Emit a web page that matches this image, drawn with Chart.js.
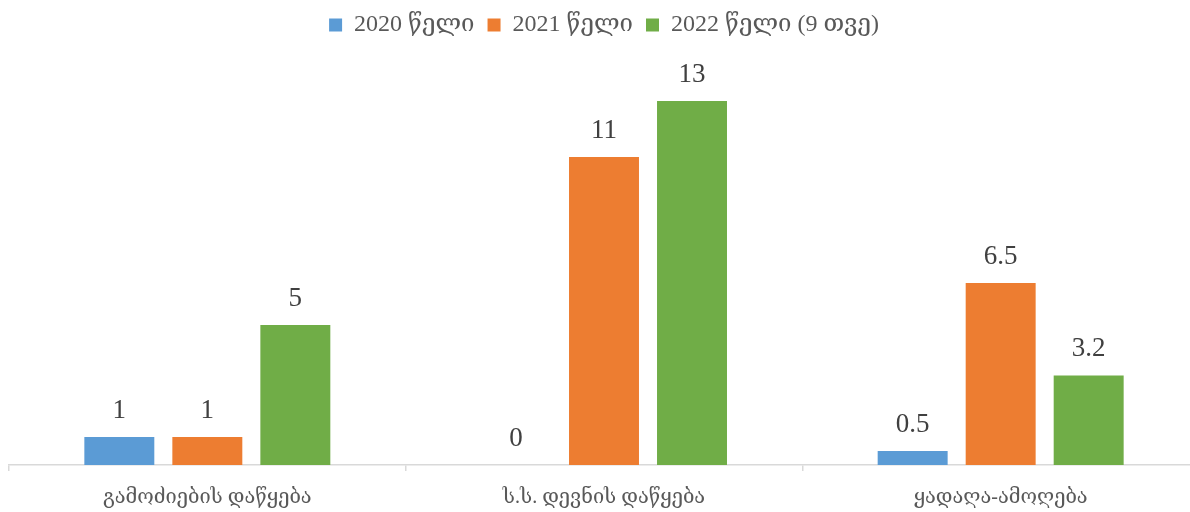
<!DOCTYPE html>
<html>
<head>
<meta charset="utf-8">
<script src="https://cdn.jsdelivr.net/npm/chart.js@4/dist/chart.umd.min.js"></script>
<style>
  html, body { margin: 0; padding: 0; background: #fff; overflow: hidden; }
  #wrap { width: 1190px; height: 512px; overflow: hidden; }
</style>
</head>
<body>
<div id="wrap"><canvas id="bars" width="1199" height="512"></canvas></div>
<script>
const categories = ['გამოძიების დაწყება', 'ს.ს. დევნის დაწყება', 'ყადაღა-ამოღება'];
const seriesNames = ['2020 წელი', '2021 წელი', '2022 წელი (9 თვე)'];
const values2020 = [1, 0, 0.5];
const values2021 = [1, 11, 6.5];
const values2022 = [5, 13, 3.2];
const colors = ['#5B9BD5', '#ED7D31', '#70AD47'];

const serif = "'Liberation Serif', 'DejaVu Serif', serif";

// value labels above each bar
const barLabels = {
  id: 'barLabels',
  afterDatasetsDraw(chart) {
    const ctx = chart.ctx;
    ctx.save();
    ctx.font = '27px ' + serif;
    ctx.fillStyle = '#404040';
    ctx.textAlign = 'center';
    ctx.textBaseline = 'alphabetic';
    chart.data.datasets.forEach((ds, i) => {
      chart.getDatasetMeta(i).data.forEach((bar, j) => {
        ctx.fillText(String(ds.data[j]), bar.x, bar.y - 19);
      });
    });
    ctx.restore();
  }
};

// fix legend block height so the plot area starts where it should
const legendHeight = {
  id: 'legendHeight',
  beforeInit(chart) {
    const fit = chart.legend.fit;
    chart.legend.fit = function () {
      fit.bind(chart.legend)();
      this.height = 73;
    };
  }
};

new Chart(document.getElementById('bars'), {
  type: 'bar',
  data: {
    labels: categories,
    datasets: [
      { label: seriesNames[0], data: values2020, backgroundColor: colors[0] },
      { label: seriesNames[1], data: values2021, backgroundColor: colors[1] },
      { label: seriesNames[2], data: values2022, backgroundColor: colors[2] }
    ]
  },
  options: {
    responsive: false,
    animation: false,
    layout: { padding: { left: 9, right: 0, top: 0, bottom: 0 } },
    datasets: {
      bar: { categoryPercentage: 0.6656, barPercentage: 0.795 }
    },
    scales: {
      x: {
        grid: {
          offset: true,
          drawOnChartArea: false,
          drawTicks: true,
          tickLength: 6,
          color: '#d9d9d9',
          lineWidth: 1.5
        },
        border: { display: true, color: '#d9d9d9', width: 1.5 },
        ticks: {
          color: '#595959',
          font: { family: serif, size: 20 },
          padding: 15
        },
        afterFit(scale) { scale.height = 47; }
      },
      y: {
        display: false,
        min: 0,
        max: 14
      }
    },
    plugins: {
      legend: {
        position: 'top',
        labels: {
          boxWidth: 13,
          boxHeight: 13,
          padding: 13,
          color: '#595959',
          font: { family: serif, size: 24 }
        }
      },
      tooltip: { enabled: false }
    }
  },
  plugins: [barLabels, legendHeight]
});
</script>
</body>
</html>
